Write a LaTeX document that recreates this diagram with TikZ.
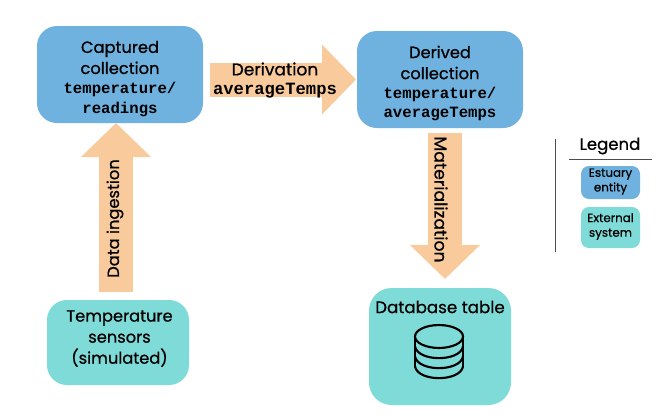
\documentclass[tikz,border=0pt]{standalone}
\usepackage{fontspec}
\setmainfont{Poppins}[FakeBold=0.7]
\setmonofont{Liberation Mono}[BoldFont={Liberation Mono Bold}]
\usetikzlibrary{arrows.meta}
\definecolor{entityblue}{HTML}{6FB2DF}
\definecolor{exttealc}{HTML}{7FDBD8}
\definecolor{peach}{HTML}{F9CB9C}
\newcommand{\bigfont}{\fontsize{12.2}{15.8}\selectfont}
\newcommand{\codefont}{\fontsize{11.75}{14.5}\selectfont\ttfamily\bfseries}
\newcommand{\codefontb}{\fontsize{12.9}{14.5}\selectfont\ttfamily\bfseries}
\tikzset{
  x=0.75pt,y=-0.75pt,
  blockarrow/.style={draw=peach,line width=25.5pt,{-{Triangle[length=25.5pt,width=51pt]}}},
  txt/.style={inner sep=0pt,align=center,text=black,font=\bigfont},
  legendtxt/.style={inner sep=0pt,align=center,text=black,font=\fontsize{8.9}{11}\selectfont},
}
\begin{document}
\begin{tikzpicture}
\useasboundingbox (0,0) rectangle (667,415);
\fill[white] (0,0) rectangle (667,415);
% boxes
\node[fill=entityblue,rounded corners=15pt,minimum width=124.5pt,minimum height=72.75pt,inner sep=0pt] (captured) at (120,74.5) {};
\node[fill=entityblue,rounded corners=15pt,minimum width=124.5pt,minimum height=72.75pt,inner sep=0pt] (derived) at (440,79.5) {};
\node[fill=exttealc,rounded corners=15pt,minimum width=106.5pt,minimum height=63.75pt,inner sep=0pt] (sensors) at (118,342.5) {};
\node[fill=exttealc,rounded corners=17pt,minimum width=106.5pt,minimum height=87.75pt,inner sep=0pt] (database) at (440,346.5) {};
% anchors of the block arrows
\coordinate (upstart) at (116,292);
\coordinate (upend) at (116,123);
\coordinate (rightstart) at (210,79.5);
\coordinate (rightend) at (356,79.5);
\coordinate (downstart) at (445,133);
\coordinate (downend) at (445,279);
\draw[blockarrow] (upstart) -- (upend);
\draw[blockarrow] (rightstart) -- (rightend);
\draw[blockarrow] (downstart) -- (downend);
% texts
\node[txt] (capturedtext) at (120,57.5) {Captured\\collection};
\node[txt,font=\codefont] (capturedcode) at (120,99.5) {temperature/\\readings};
\node[txt] (derivedtext) at (440,62.5) {Derived\\collection};
\node[txt,font=\codefont] (derivedcode) at (440,104) {temperature/\\averageTemps};
\node[txt,font=\fontsize{12.8}{15.5}\selectfont] (derivation) at (275,69) {Derivation};
\node[txt,font=\codefontb] (derivationcode) at (275,91) {averageTemps};
\node[txt,rotate=90] (ingestion) at (115,218.5) {Data ingestion};
\node[txt,font=\fontsize{12.9}{15.5}\selectfont,rotate=-90] (materialization) at (441,199.5) {Materialization};
\node[txt] (sensorstext) at (119.5,338.5) {Temperature\\sensors\\(simulated)};
\node[txt,font=\fontsize{12.5}{15.5}\selectfont] (databasetext) at (440,307) {Database table};
% database icon
\begin{scope}[line width=1.6pt,draw=black,line cap=round]
\draw (439,336.5) ellipse [x radius=18pt,y radius=8.6pt];
\draw (415,336.5) -- (415,366.5) (463,336.5) -- (463,366.5);
\draw (415,346.5) .. controls (418,362) and (460,362) .. (463,346.5);
\draw (415,356.5) .. controls (418,372) and (460,372) .. (463,356.5);
\draw (415,366.5) .. controls (418,382) and (460,382) .. (463,366.5);
\end{scope}
% legend
\draw[draw=black!70,line width=0.6pt] (555.5,139) -- (555.5,252);
\node[txt,font=\fontsize{12.4}{13}\selectfont] (legendtitle) at (610,146) {Legend};
\draw[draw=black!70,line width=0.6pt] (569,159.5) -- (652,159.5);
\node[fill=entityblue,rounded corners=6pt,minimum width=44.25pt,minimum height=24.75pt,inner sep=0pt] (legendentity) at (610.5,182.5) {};
\node[fill=exttealc,rounded corners=6pt,minimum width=44.25pt,minimum height=30.75pt,inner sep=0pt] (legendexternal) at (610.5,227.5) {};
\node[legendtxt] (legendentitytext) at (610.5,181.5) {Estuary\\entity};
\node[legendtxt] (legendexternaltext) at (610.5,226.5) {External\\system};
\end{tikzpicture}
\end{document}
